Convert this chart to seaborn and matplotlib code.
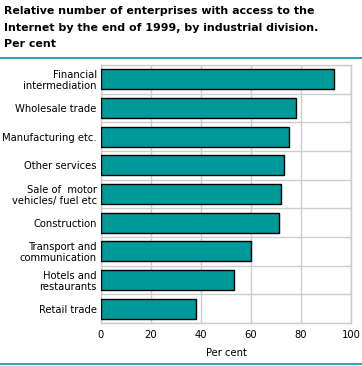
import matplotlib
matplotlib.use("Agg")
import matplotlib.pyplot as plt
import seaborn as sns
import pandas as pd

# industrial divisions, top to bottom
divisions = [
    "Financial\nintermediation",
    "Wholesale trade",
    "Manufacturing etc.",
    "Other services",
    "Sale of  motor\nvehicles/ fuel etc",
    "Construction",
    "Transport and\ncommunication",
    "Hotels and\nrestaurants",
    "Retail trade",
]
per_cent = [93.3, 78.1, 75.3, 73.3, 72.1, 71.3, 60.1, 53.3, 38.1]
x_ticks = [0, 20, 40, 60, 80, 100]

teal = "#009999"
grid_grey = "#cccccc"

df = pd.DataFrame({"Division": divisions, "Per cent": per_cent})

sns.set_theme(style="white")
plt.rcParams["font.family"] = ["DejaVu Sans"]
plt.rcParams["text.color"] = "black"
plt.rcParams["axes.labelcolor"] = "black"
plt.rcParams["xtick.color"] = "black"
plt.rcParams["ytick.color"] = "black"

fig = plt.figure(figsize=(3.62, 3.66), dpi=100)
ax = fig.add_axes([101 / 362, 1 - 323 / 366, 250 / 362, 258 / 366])

sns.barplot(data=df, x="Per cent", y="Division", color=teal, width=0.7,
            edgecolor="black", linewidth=1, saturation=1, ax=ax, zorder=3)

ax.set_xlim(0, 100)
ax.set_ylim(len(divisions) - 0.5, -0.5)
ax.set_xticks(x_ticks)
ax.set_xticklabels([str(t) for t in x_ticks], fontsize=7.2)
ax.set_yticks(range(len(divisions)))
ax.set_yticklabels(divisions, fontsize=7.2, linespacing=1.1)
ax.set_yticks([i + 0.5 for i in range(-1, len(divisions))], minor=True)
ax.grid(True, axis="x", color=grid_grey, linewidth=1, zorder=0)
ax.grid(True, axis="y", which="minor", color=grid_grey, linewidth=1, zorder=0)
ax.grid(False, axis="y", which="major")
ax.tick_params(axis="both", which="both", length=0, pad=3)
ax.tick_params(axis="x", pad=5)
ax.set_xlabel("Per cent", fontsize=7.2, labelpad=6)
ax.set_ylabel("")
for s in ax.spines.values():
    s.set_color(grid_grey)
    s.set_linewidth(1)

fig.text(0.012, 0.984, "Relative number of enterprises with access to the\n"
         "Internet by the end of 1999, by industrial division.\nPer cent",
         fontsize=7.9, fontweight="bold", va="top", ha="left", linespacing=1.85)

fig.add_artist(plt.Line2D([0, 1], [1 - 58 / 366, 1 - 58 / 366], color=teal, linewidth=1.2))
fig.add_artist(plt.Line2D([0, 1], [1 - 364 / 366, 1 - 364 / 366], color=teal, linewidth=1.2))

fig.savefig("out.png", dpi=100)
